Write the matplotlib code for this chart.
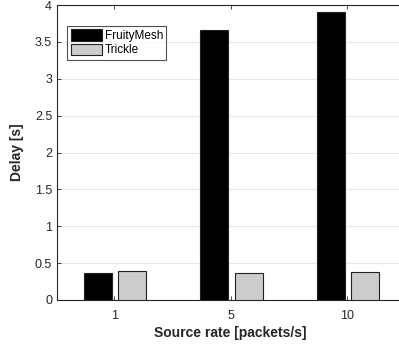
import matplotlib
matplotlib.use("Agg")
import matplotlib.pyplot as plt
import numpy as np

categories = ["1", "5", "10"]
fruitymesh = [0.365, 3.66, 3.90]
trickle = [0.39, 0.36, 0.38]

plt.rcParams['font.family'] = ['Liberation Sans', 'DejaVu Sans']

fig = plt.figure(figsize=(3.99, 3.47), dpi=100)
ax = fig.add_axes([57/399, 47/347, 1 - 57/399 + 0.01, (300-5)/347])
x = np.arange(1, len(categories) + 1)
w = 0.24
ax.bar(x - 0.14, fruitymesh, w, color='black', edgecolor='#222222', linewidth=0.8, label='FruityMesh', zorder=3)
ax.bar(x + 0.155, trickle, w, color='#cccccc', edgecolor='#222222', linewidth=0.8, label='Trickle', zorder=3)

ax.set_xlim(0.51, 3.48)
ax.set_ylim(0, 4)
ax.set_xticks(x)
ax.set_xticklabels(categories)
ax.set_yticks(np.arange(0, 4.01, 0.5))
ax.set_yticklabels(['0', '0.5', '1', '1.5', '2', '2.5', '3', '3.5', '4'])
ax.yaxis.grid(True, color='#e8e8e8', linewidth=0.8, zorder=0)
ax.set_axisbelow(True)
ax.tick_params(direction='in', length=3, width=0.6, labelsize=9, colors='#262626', top=True, right=True)
ax.tick_params(axis='x', pad=7)
for s in ax.spines.values():
    s.set_color('#262626')
    s.set_linewidth(0.8)
ax.set_xlabel('Source rate [packets/s]', fontsize=10, fontweight='bold', color='#262626', labelpad=3)
ax.set_ylabel('Delay [s]', fontsize=10, fontweight='bold', color='#262626', labelpad=8)

leg = ax.legend(loc='upper left', bbox_to_anchor=(0.03, 0.93), fontsize=8.5, frameon=True,
                fancybox=False, edgecolor='#262626', borderpad=0.3, handlelength=2.6,
                handleheight=1.1, handletextpad=0.25, labelspacing=0.15, borderaxespad=0)
leg.get_frame().set_linewidth(0.8)

fig.savefig('out.png', dpi=100)
